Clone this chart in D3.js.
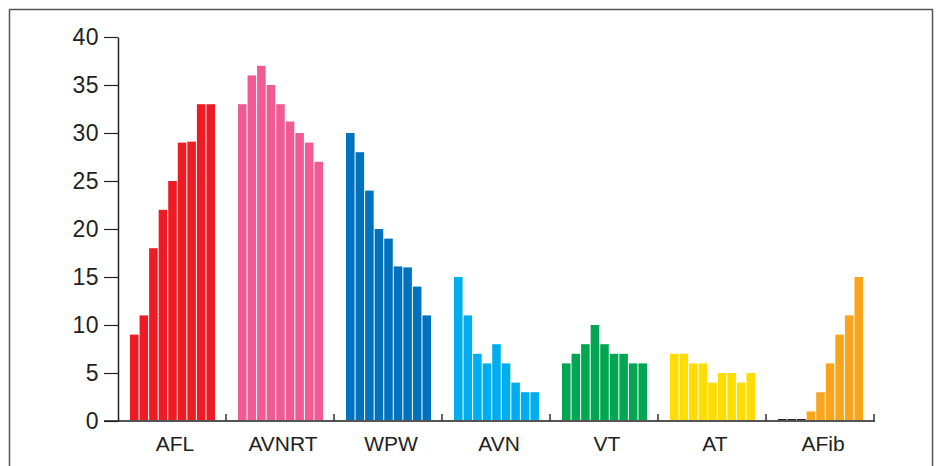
<!DOCTYPE html>
<html>
<head>
<meta charset="utf-8">
<script src="https://cdn.jsdelivr.net/npm/d3@7"></script>
<style>
  body { margin: 0; background: #fff; }
  svg { display: block; font-family: "Liberation Sans", Arial, sans-serif; }
</style>
</head>
<body>
<div id="chart"></div>
<script>
var width = 938, height = 466

// categories and the nine yearly values of each
var categories = ['AFL', 'AVNRT', 'WPW', 'AVN', 'VT', 'AT', 'AFib']
var colors = ['#ed1c24', '#f05b93', '#0071bc', '#00aeef', '#00a651', '#ffdd00', '#f8a51e']
var aflValues = [9, 11, 18, 22, 25, 29, 29.1, 33, 33]
var avnrtValues = [33, 36, 37, 35, 33, 31.2, 30, 29, 27]
var wpwValues = [30, 28, 24, 20, 19, 16.1, 16, 14, 11]
var avnValues = [15, 11, 7, 6, 8, 6, 4, 3, 3]
var vtValues = [6, 7, 8, 10, 8, 7, 7, 6, 6]
var atValues = [7, 7, 6, 6, 4, 5, 5, 4, 5]
var afibValues = [0, 0, 0, 1, 3, 6, 9, 11, 15]
var yTicks = [0, 5, 10, 15, 20, 25, 30, 35, 40]

var series = [aflValues, avnrtValues, wpwValues, avnValues, vtValues, atValues, afibValues]

var svg = d3.select('#chart')
    .append('svg')
    .attr('width', width)
    .attr('height', height)

// frame
svg.append('path')
    .attr('d', 'M9.5,' + (height + 2) + 'V9.5H932.5V' + (height + 2))
    .attr('fill', 'none')
    .attr('stroke', '#555')
    .attr('stroke-width', 1.5)

var x = d3.scaleBand()
    .domain(categories)
    .range([118, 874])

var xInner = d3.scaleBand()
    .domain(d3.range(9))
    .range([12, 98])

var y = d3.scaleLinear()
    .domain([0, 40])
    .range([421, 37])

var groups = svg.append('g')
    .selectAll('g')
    .data(categories)
    .enter()
    .append('g')
    .attr('transform', function(d) { return 'translate(' + x(d) + ',0)' })

groups.selectAll('rect')
    .data(function(d, i) {
        return series[i].map(function(v, j) { return { v: v, j: j, c: colors[i] } })
    })
    .enter()
    .append('rect')
    .attr('x', function(d) { return xInner(d.j) })
    .attr('width', xInner.bandwidth() - 1)
    .attr('y', function(d) { return d.v > 0 ? y(d.v) : y(0) - 2 })
    .attr('height', function(d) { return d.v > 0 ? y(0) - y(d.v) : 2 })
    .attr('fill', function(d) { return d.v > 0 ? d.c : '#222' })

// x axis baseline and group ticks
svg.append('line')
    .attr('x1', 104).attr('x2', 875)
    .attr('y1', y(0)).attr('y2', y(0))
    .attr('stroke', '#555')
    .attr('stroke-width', 2)

svg.append('g')
    .selectAll('line')
    .data(categories.slice(1).concat(['end']))
    .enter()
    .append('line')
    .attr('x1', function(d) { return d == 'end' ? x.range()[1] : x(d) })
    .attr('x2', function(d) { return d == 'end' ? x.range()[1] : x(d) })
    .attr('y1', y(0) - 7)
    .attr('y2', y(0))
    .attr('stroke', '#333')
    .attr('stroke-width', 1.5)

svg.append('g')
    .selectAll('text')
    .data(categories)
    .enter()
    .append('text')
    .attr('x', function(d) { return x(d) + 57 })
    .attr('y', 451)
    .attr('text-anchor', 'middle')
    .attr('font-size', '21px')
    .attr('fill', '#222')
    .text(function(d) { return d })

// y axis
var yAxis = svg.append('g')
    .attr('transform', 'translate(118,0)')
    .call(d3.axisLeft(y).tickValues(yTicks).tickSize(14).tickPadding(5).tickSizeOuter(0))

yAxis.select('.domain').attr('stroke', '#222').attr('stroke-width', 1.5)
yAxis.selectAll('.tick line').attr('stroke', '#222').attr('stroke-width', 1.2)
yAxis.selectAll('.tick text')
    .attr('font-size', '23px')
    .attr('letter-spacing', '0.5px')
    .attr('font-family', '"Liberation Sans", Arial, sans-serif')
    .attr('fill', '#222')
</script>
</body>
</html>
